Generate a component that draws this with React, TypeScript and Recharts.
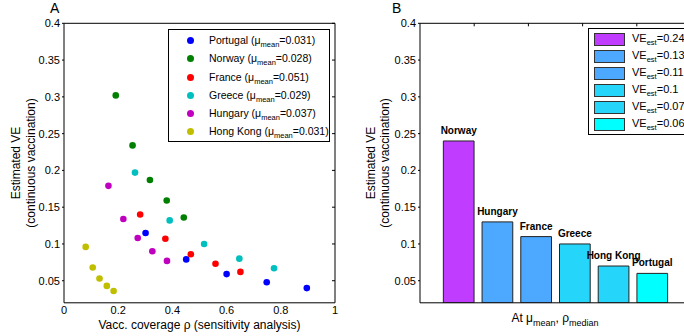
import React from 'react';
import { ScatterChart, Scatter, BarChart, Bar, Cell, XAxis, YAxis, Legend, LabelList, Label } from 'recharts';

// panel A: one series per country
const countries = ['Portugal', 'Norway', 'France', 'Greece', 'Hungary', 'Hong Kong'];
const muMean = ['0.031', '0.028', '0.051', '0.029', '0.037', '0.031'];
const dotColors = ['#0000FF', '#008000', '#FF0000', '#00BFBF', '#BF00BF', '#BFBF00'];
const coverage = [
  [0.301, 0.451, 0.6, 0.748, 0.896],
  [0.191, 0.253, 0.317, 0.379, 0.442],
  [0.281, 0.374, 0.468, 0.559, 0.651],
  [0.262, 0.39, 0.517, 0.647, 0.775],
  [0.164, 0.219, 0.272, 0.326, 0.38],
  [0.08, 0.106, 0.131, 0.158, 0.183],
];
const veScatter = [
  [0.115, 0.079, 0.059, 0.048, 0.04],
  [0.302, 0.234, 0.187, 0.159, 0.136],
  [0.14, 0.107, 0.086, 0.073, 0.062],
  [0.197, 0.132, 0.1, 0.08, 0.067],
  [0.179, 0.134, 0.108, 0.09, 0.077],
  [0.096, 0.068, 0.053, 0.043, 0.036],
];
const xTicksA = [0, 0.2, 0.4, 0.6, 0.8, 1];
const yTicks = [0.05, 0.1, 0.15, 0.2, 0.25, 0.3, 0.35, 0.4];

// panel B
const barCountries = ['Norway', 'Hungary', 'France', 'Greece', 'Hong Kong', 'Portugal'];
const barPos = [1, 2, 3, 4, 5, 6];
const barValues = [0.24, 0.13, 0.11, 0.1, 0.07, 0.06];
const barColors = ['#C03CFF', '#4DA8FF', '#4DA8FF', '#26D6FA', '#26D6FA', '#00FFFF'];

const FONT = '"Liberation Sans", Arial, sans-serif';
const sub = (t: string) => (
  <span style={{ fontSize: 7.5, position: 'relative', top: 3 }}>{t}</span>
);

const scatterSeries = countries.map((c, i) => ({
  name: c,
  mu: muMean[i],
  color: dotColors[i],
  data: coverage[i].map((x, j) => ({ x, y: veScatter[i][j] })),
}));
const barData = barCountries.map((name, i) => ({ name, x: barPos[i], ve: barValues[i] }));

const yTitle = (cx: number, gap: number) => () => {
  const cy = 163;
  return (
    <text transform={`rotate(-90 ${cx} ${cy})`} x={cx} y={cy} textAnchor="middle" fontSize={12} fill="#000" fontFamily={FONT}>
      <tspan x={cx} dy={0}>Estimated VE</tspan>
      <tspan x={cx} dy={gap}>(continuous vaccination)</tspan>
    </text>
  );
};

const tickStyle = { fontSize: 11, fill: '#000', fontFamily: FONT };

function LegendA() {
  return (
    <div style={{ border: '1px solid #000', background: '#fff', width: 160, height: 110, paddingTop: 1, boxSizing: 'content-box' }}>
      {scatterSeries.map((s) => (
        <div key={s.name} style={{ position: 'relative', height: 18.3, fontSize: 10.5, lineHeight: '18px', fontFamily: FONT }}>
          <span style={{ position: 'absolute', left: 18, top: 6, width: 7, height: 7, borderRadius: '50%', background: s.color }} />
          <span style={{ position: 'absolute', left: 40, top: 0, whiteSpace: 'nowrap' }}>
            {s.name} (μ{sub('mean')}={s.mu})
          </span>
        </div>
      ))}
    </div>
  );
}

function LegendB() {
  return (
    <div style={{ border: '1px solid #000', background: '#fff', width: 100, height: 103, paddingTop: 2 }}>
      {barValues.map((v, i) => (
        <div key={i} style={{ position: 'relative', height: 17, fontSize: 11, lineHeight: '16px', fontFamily: FONT }}>
          <span style={{ position: 'absolute', left: 5, top: 2, width: 29, height: 11, background: barColors[i], border: '1px solid #333' }} />
          <span style={{ position: 'absolute', left: 43, top: -1, whiteSpace: 'nowrap' }}>
            VE{sub('est')}={v}
          </span>
        </div>
      ))}
    </div>
  );
}

const barLabel = (p: any) => (
  <text x={p.x + p.width / 2} y={p.y - 7} textAnchor="middle" fontSize={10} fontWeight="bold" fill="#000" fontFamily={FONT}>
    {p.value}
  </text>
);

export default function App() {
  return (
    <div style={{ position: 'absolute', left: 0, top: 0, width: 684, height: 336, overflow: 'hidden', background: '#fff', fontFamily: FONT }}>
      <div style={{ position: 'absolute', left: 50, top: 0, fontSize: 14, lineHeight: '16px' }}>A</div>
      <div style={{ position: 'absolute', left: 392, top: 0, fontSize: 14, lineHeight: '16px' }}>B</div>

      <div style={{ position: 'absolute', left: 0, top: 0 }}>
        <ScatterChart width={340} height={336} margin={{ top: 22.3, right: 4, bottom: 3.2, left: 4 }}>
          <XAxis type="number" dataKey="x" domain={[0, 1]} ticks={xTicksA} height={30} stroke="#000"
            tickLine={false} tickSize={0} tick={tickStyle} tickMargin={3} allowDataOverflow>
            <Label value="Vacc. coverage ρ (sensitivity analysis)" position="insideBottom" offset={4} style={{ fontSize: 12, fill: '#000', fontFamily: FONT }} />
          </XAxis>
          <XAxis xAxisId="top" orientation="top" type="number" domain={[0, 1]} ticks={xTicksA} height={1}
            stroke="#000" tickSize={-3} tickFormatter={() => ''} allowDataOverflow />
          <YAxis type="number" dataKey="y" domain={[0.02, 0.4]} ticks={yTicks} width={60} stroke="#000"
            tickSize={2} tickMargin={2} tick={tickStyle} allowDataOverflow>
            <Label content={yTitle(20, 15)} />
          </YAxis>
          <YAxis yAxisId="right" orientation="right" type="number" domain={[0.02, 0.4]} ticks={yTicks} width={1}
            stroke="#000" tickSize={-3} tickFormatter={() => ''} allowDataOverflow />
          <Legend layout="vertical" align="center" verticalAlign="middle" content={() => <LegendA />}
            wrapperStyle={{ left: 168, top: 29, width: 162 }} />
          {scatterSeries.map((s) => (
            <Scatter key={s.name} name={s.name} data={s.data} fill={s.color} isAnimationActive={false}
              shape={(p: any) => <circle cx={p.cx} cy={p.cy} r={3.3} fill={s.color} />} />
          ))}
        </ScatterChart>
      </div>

      <div style={{ position: 'absolute', left: 340, top: 0 }}>
        <BarChart width={360} height={336} data={barData} margin={{ top: 22.3, right: 9, bottom: 3.2, left: 20 }}>
          <XAxis type="number" dataKey="x" domain={[0, 7]} ticks={barPos} height={30} stroke="#000"
            tickLine={false} tickFormatter={() => ''} allowDataOverflow>
            <Label content={() => (
              <text x={555 - 340} y={322} textAnchor="middle" fontSize={12} fill="#000" fontFamily={FONT}>
                <tspan>At μ</tspan>
                <tspan fontSize={9} dy={4}>mean</tspan>
                <tspan dy={-4}>, ρ</tspan>
                <tspan fontSize={9} dy={4}>median</tspan>
              </text>
            )} />
          </XAxis>
          <XAxis xAxisId="top" orientation="top" type="number" domain={[0, 7]} ticks={barPos} height={1}
            stroke="#000" tickSize={-3} tickFormatter={() => ''} allowDataOverflow />
          <YAxis type="number" domain={[0.02, 0.4]} ticks={yTicks} width={60} stroke="#000"
            tickSize={2} tickMargin={2} tick={tickStyle} allowDataOverflow>
            <Label content={yTitle(375 - 340, 14)} />
          </YAxis>
          <Legend layout="vertical" align="center" verticalAlign="middle" content={() => <LegendB />}
            wrapperStyle={{ left: 248, top: 28, width: 102 }} />
          <Bar dataKey="ve" barSize={30.7} stroke="#222" strokeWidth={1} isAnimationActive={false}>
            {barData.map((d, i) => <Cell key={d.name} fill={barColors[i]} />)}
            <LabelList dataKey="name" content={barLabel} />
          </Bar>
        </BarChart>
      </div>
    </div>
  );
}
